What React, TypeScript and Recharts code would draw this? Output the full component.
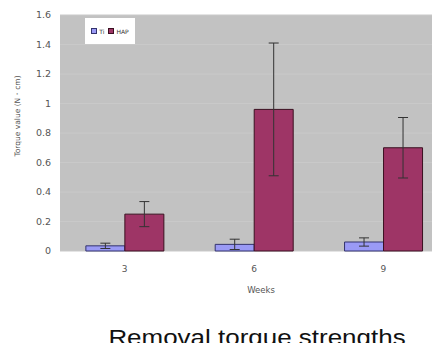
import React from "react";
import { BarChart, Bar, XAxis, YAxis, CartesianGrid, ErrorBar } from "recharts";

const weeks = ["3", "6", "9"];
const tiValues = [0.035, 0.045, 0.061];
const tiErrors = [0.018, 0.035, 0.028];
const hapValues = [0.25, 0.96, 0.7];
const hapErrors = [0.085, 0.45, 0.205];
const yTicks = [0, 0.2, 0.4, 0.6, 0.8, 1, 1.2, 1.4, 1.6];

const data = weeks.map((w, i) => ({
  week: w,
  Ti: tiValues[i],
  tiErr: tiErrors[i],
  HAP: hapValues[i],
  hapErr: hapErrors[i],
}));

const TI_FILL = "#9a9af5";
const HAP_FILL = "#9e3566";
const FONT = "DejaVu Sans, sans-serif";

const legendItems = [
  { name: "Ti", fill: TI_FILL, stroke: "#33336e" },
  { name: "HAP", fill: HAP_FILL, stroke: "#3a1020" },
];

// rotated y-axis title, placed a bit above the plot's middle like the original
const YTitle = () => (
  <text
    x={9}
    y={108}
    transform="rotate(-90, 9, 108)"
    textAnchor="middle"
    dominantBaseline="central"
    fontSize={7.5}
    fill="#555"
    fontFamily={FONT}
  >
    Torque value (N・cm)
  </text>
);

export default function App() {
  return (
    <div style={{ position: "relative", width: 432, height: 343, marginBottom: -8, overflow: "hidden" }}>
      <BarChart
        width={440}
        height={288}
        data={data}
        margin={{ top: 7, right: 0, bottom: 0, left: 0 }}
        barCategoryGap="20%"
        barGap={0}
      >
        <CartesianGrid vertical={false} fill="#c2c2c2" stroke="#c9c9c9" />
        <XAxis
          dataKey="week"
          axisLine={false}
          tickLine={false}
          height={45}
          tickMargin={9}
          tick={{ fontSize: 9, fill: "#555", fontFamily: FONT }}
          label={{
            value: "Weeks",
            position: "insideBottom",
            offset: 3,
            dx: 7,
            fontSize: 8.5,
            fill: "#555",
            fontFamily: FONT,
          }}
        />
        <YAxis
          width={52}
          domain={[0, 1.6]}
          ticks={yTicks}
          interval={0}
          axisLine={false}
          tickLine={false}
          tickMargin={3}
          tick={{ fontSize: 9.5, fill: "#555", fontFamily: FONT }}
          label={{ content: <YTitle /> }}
        />
        <Bar dataKey="Ti" fill={TI_FILL} stroke="#33336e" strokeWidth={1} isAnimationActive={false}>
          <ErrorBar dataKey="tiErr" width={5} stroke="#333" strokeWidth={1} />
        </Bar>
        <Bar dataKey="HAP" fill={HAP_FILL} stroke="#3a1020" strokeWidth={1} isAnimationActive={false}>
          <ErrorBar dataKey="hapErr" width={5} stroke="#333" strokeWidth={1} />
        </Bar>
      </BarChart>
      <div
        style={{
          position: "absolute",
          left: 77,
          top: 10,
          background: "#fff",
          width: 50,
          height: 26,
          display: "flex",
          alignItems: "center",
          justifyContent: "center",
          gap: 4,
          fontFamily: FONT,
          fontSize: 6,
          color: "#333",
        }}
      >
        {legendItems.map((it) => (
          <span key={it.name} style={{ display: "flex", alignItems: "center", gap: 2 }}>
            <span
              style={{
                display: "inline-block",
                width: 4,
                height: 4,
                background: it.fill,
                border: `1px solid ${it.stroke}`,
              }}
            />
            {it.name}
          </span>
        ))}
      </div>
      <div
        style={{
          position: "absolute",
          top: 317,
          left: 0,
          width: 498,
          textAlign: "center",
          fontFamily: "Liberation Sans, Arial, sans-serif",
          fontSize: 22,
          lineHeight: "26px",
          color: "#111",
          transform: "scaleX(1.18)",
        }}
      >
        Removal torque strengths
      </div>
    </div>
  );
}
